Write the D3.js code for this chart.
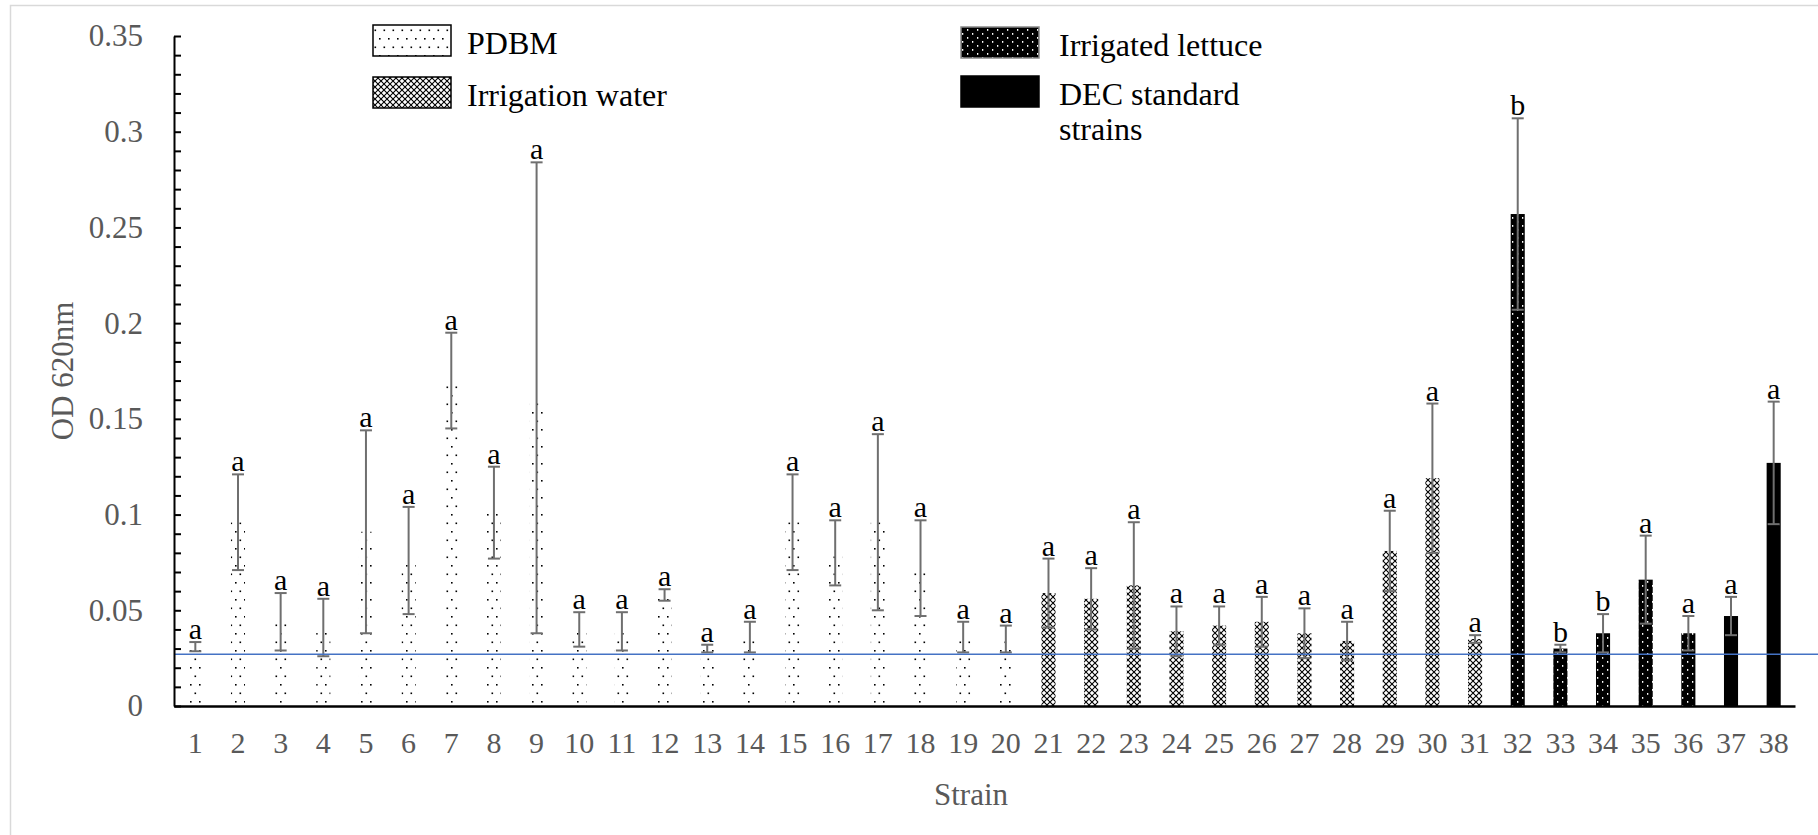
<!DOCTYPE html>
<html>
<head>
<meta charset="utf-8">
<script src="https://cdn.jsdelivr.net/npm/d3@7"></script>
<style>
  body { margin: 0; background: #fff; }
  svg text { font-family: "Liberation Serif", "Tinos", "Times New Roman", Times, "DejaVu Serif", serif; }
</style>
</head>
<body>
<svg width="1818" height="835"></svg>
<script>
// strains on the x axis
var strains = d3.range(1, 39).map(String);

// source group of each strain
var groupNames = ["PDBM", "Irrigation water", "Irrigated lettuce", "DEC standard strains"];
var strainGroup = [
  0,0,0,0,0,0,0,0,0,0, 0,0,0,0,0,0,0,0,0,0,
  1,1,1,1,1,1,1,1,1,1,1,
  2,2,2,2,2,
  3,3
];

// mean OD 620nm
var odMean = [
  0.031, 0.096, 0.044, 0.041, 0.091, 0.076, 0.170, 0.101, 0.161, 0.040,
  0.039, 0.058, 0.030, 0.036, 0.096, 0.080, 0.096, 0.072, 0.036, 0.035,
  0.059, 0.056, 0.063, 0.039, 0.042, 0.044, 0.038, 0.034, 0.081, 0.119,
  0.035, 0.257, 0.030, 0.038, 0.066, 0.038, 0.047, 0.127
];

// error (+/-)
var odErr = [
  0.0024, 0.025, 0.015, 0.015, 0.053, 0.028, 0.025, 0.024, 0.123, 0.009,
  0.010, 0.003, 0.002, 0.008, 0.025, 0.017, 0.046, 0.025, 0.008, 0.007,
  0.018, 0.016, 0.033, 0.013, 0.010, 0.013, 0.013, 0.010, 0.021, 0.039,
  0.002, 0.050, 0.002, 0.010, 0.023, 0.009, 0.010, 0.032
];

// significance letters
var letters = [
  "a","a","a","a","a","a","a","a","a","a",
  "a","a","a","a","a","a","a","a","a","a",
  "a","a","a","a","a","a","a","a","a","a",
  "a","b","b","b","a","a","a","a"
];

// cut-off line
var cutoff = 0.027;

// y ticks every 0.01, labels on every fifth
var yTickValues = d3.range(0, 36).map(function(i) { return i / 100; });
var yTickLabels = ["0", "0.05", "0.1", "0.15", "0.2", "0.25", "0.3", "0.35"];

var svg = d3.select("svg");
var gray = "#595959";
var serif = '"Liberation Serif", "Tinos", "Times New Roman", Times, "DejaVu Serif", serif';

// outer chart border
svg.append("rect")
  .attr("x", 10.5).attr("y", 5.5)
  .attr("width", 1900).attr("height", 900)
  .attr("fill", "none").attr("stroke", "#d9d9d9").attr("stroke-width", 1.5);

// fill patterns
var defs = svg.append("defs");

var p0 = defs.append("pattern").attr("id", "pat0")
  .attr("patternUnits", "userSpaceOnUse").attr("width", 9).attr("height", 17);
p0.append("rect").attr("width", 9).attr("height", 17).attr("fill", "#fff");
p0.append("rect").attr("x", 1).attr("y", 4).attr("width", 1.6).attr("height", 1.6).attr("fill", "#000");
p0.append("rect").attr("x", 5.5).attr("y", 12.5).attr("width", 1.6).attr("height", 1.6).attr("fill", "#000");

var p1 = defs.append("pattern").attr("id", "pat1")
  .attr("patternUnits", "userSpaceOnUse").attr("width", 6).attr("height", 6);
p1.append("rect").attr("width", 6).attr("height", 6).attr("fill", "#fff");
p1.append("path").attr("d", "M0,0L6,6M6,0L0,6")
  .attr("stroke", "#000").attr("stroke-width", 1.1);

var p2 = defs.append("pattern").attr("id", "pat2")
  .attr("patternUnits", "userSpaceOnUse").attr("width", 10).attr("height", 8);
p2.append("rect").attr("width", 10).attr("height", 8).attr("fill", "#000");
p2.append("rect").attr("x", 2).attr("y", 1).attr("width", 1.3).attr("height", 1.8).attr("fill", "#fff");
p2.append("rect").attr("x", 7).attr("y", 5).attr("width", 1.3).attr("height", 1.8).attr("fill", "#fff");

var fills = ["url(#pat0)", "url(#pat1)", "url(#pat2)", "#000"];

// scales
var x = d3.scaleBand()
  .domain(strains)
  .range([174, 1795])
  .paddingInner(0.67)
  .paddingOuter(0.335);

var y = d3.scaleLinear()
  .domain([0, 0.35])
  .range([706, 36]);

var data = strains.map(function(s, i) {
  return { strain: s, group: strainGroup[i], mean: odMean[i], err: odErr[i], letter: letters[i] };
});

// bars
svg.append("g").selectAll("rect")
  .data(data)
  .join("rect")
  .attr("x", function(d) { return x(d.strain); })
  .attr("y", function(d) { return y(d.mean); })
  .attr("width", x.bandwidth())
  .attr("height", function(d) { return y(0) - y(d.mean); })
  .attr("fill", function(d) { return fills[d.group]; });

// error bars
var eb = svg.append("g").attr("stroke", "#6f6f6f").attr("stroke-width", 2);
var cx = function(d) { return x(d.strain) + x.bandwidth() / 2; };
eb.selectAll("line.v").data(data).join("line").attr("class", "v")
  .attr("x1", cx).attr("x2", cx)
  .attr("y1", function(d) { return y(d.mean + d.err); })
  .attr("y2", function(d) { return y(d.mean - d.err); });
eb.selectAll("line.t").data(data).join("line").attr("class", "t")
  .attr("x1", function(d) { return cx(d) - 6; }).attr("x2", function(d) { return cx(d) + 6; })
  .attr("y1", function(d) { return y(d.mean + d.err); })
  .attr("y2", function(d) { return y(d.mean + d.err); });
eb.selectAll("line.b").data(data).join("line").attr("class", "b")
  .attr("x1", function(d) { return cx(d) - 6; }).attr("x2", function(d) { return cx(d) + 6; })
  .attr("y1", function(d) { return y(d.mean - d.err); })
  .attr("y2", function(d) { return y(d.mean - d.err); });

// letters
svg.append("g").selectAll("text")
  .data(data)
  .join("text")
  .attr("x", cx)
  .attr("y", function(d) { return y(d.mean + d.err) - 3; })
  .attr("text-anchor", "middle")
  .attr("font-size", 30)
  .attr("fill", "#000")
  .text(function(d) { return d.letter; });

// cut-off line
svg.append("line")
  .attr("x1", 174).attr("x2", 1818)
  .attr("y1", y(cutoff)).attr("y2", y(cutoff))
  .attr("stroke", "#4472C4").attr("stroke-width", 1.5);

// y axis
var yAxis = svg.append("g")
  .attr("transform", "translate(174,0)")
  .call(d3.axisLeft(y)
    .tickValues(yTickValues)
    .tickSizeInner(-7)
    .tickSizeOuter(0)
    .tickPadding(31)
    .tickFormat(function(d, i) { return i % 5 === 0 ? yTickLabels[i / 5] : ""; }));
yAxis.attr("font-family", null);
yAxis.select(".domain").attr("stroke", "#000").attr("stroke-width", 2);
yAxis.selectAll(".tick line").attr("stroke", "#000").attr("stroke-width", 2);
yAxis.selectAll(".tick text")
  .style("font-family", serif)
  .attr("font-size", 31).attr("fill", gray);

// x axis
var xAxis = svg.append("g")
  .attr("transform", "translate(0,706)")
  .call(d3.axisBottom(x).tickSize(0).tickPadding(26));
xAxis.attr("font-family", null);
xAxis.select(".domain").attr("stroke", "#000").attr("stroke-width", 2.5);
xAxis.selectAll(".tick text")
  .style("font-family", serif)
  .attr("font-size", 30).attr("fill", gray);

// axis titles
svg.append("text")
  .attr("x", 971).attr("y", 805)
  .attr("text-anchor", "middle")
  .style("font-family", serif)
  .attr("font-size", 31).attr("fill", gray)
  .text("Strain");

svg.append("text")
  .attr("transform", "translate(73,371) rotate(-90)")
  .attr("text-anchor", "middle")
  .style("font-family", serif)
  .attr("font-size", 31).attr("fill", gray)
  .text("OD 620nm");

// legend
var legendPos = [[373, 25], [373, 77], [961, 27], [961, 76]];
var lg = svg.append("g");
groupNames.forEach(function(name, i) {
  var p = legendPos[i];
  lg.append("rect")
    .attr("x", p[0]).attr("y", p[1])
    .attr("width", 78).attr("height", 31)
    .attr("fill", fills[i])
    .attr("stroke", i === 2 ? "#888" : "#000").attr("stroke-width", 1.5);
  var t = lg.append("text")
    .attr("y", p[1] + 29)
    .style("font-family", serif)
    .attr("font-size", 32).attr("fill", "#000");
  if (name === "DEC standard strains") {
    t.append("tspan").attr("x", p[0] + 98).text("DEC standard");
    t.append("tspan").attr("x", p[0] + 98).attr("dy", 35).text("strains");
  } else {
    t.attr("x", p[0] + (i < 2 ? 94 : 98)).text(name);
  }
});
</script>
</body>
</html>
